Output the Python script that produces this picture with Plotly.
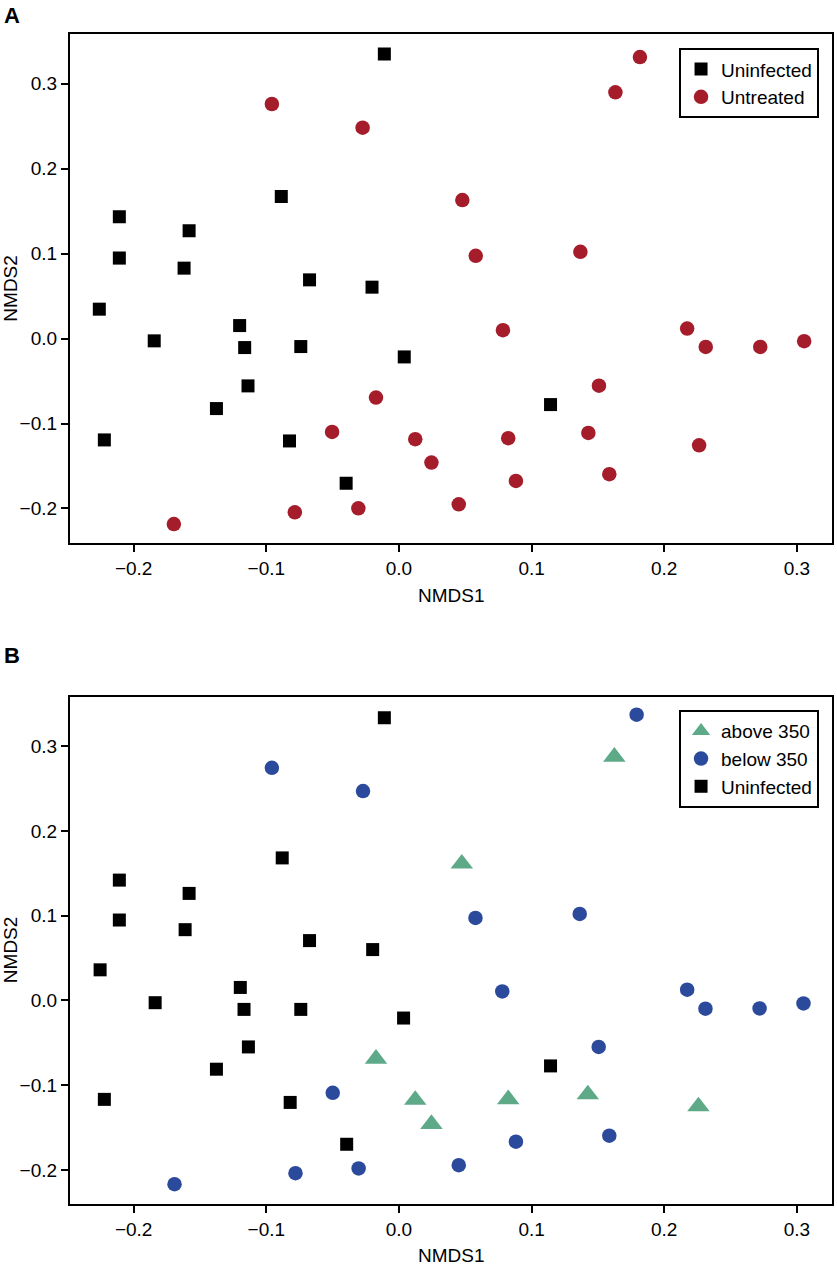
import plotly.graph_objects as go
from plotly.subplots import make_subplots

# ---- Panel A data ----
a_uninf_x = [-0.0110, -0.0887, -0.2108, -0.1582, -0.2108, -0.1620, -0.0674, -0.0203,
             -0.2259, -0.1845, -0.1201, -0.1163, -0.0740, 0.0040, -0.1138, -0.1376,
             -0.2221, -0.0825, -0.0398, 0.1143]
a_uninf_y = [0.335, 0.1673, 0.1433, 0.1269, 0.0947, 0.0829, 0.0691, 0.0605,
             0.0346, -0.0027, 0.0153, -0.0106, -0.0094, -0.0216, -0.0557, -0.0824,
             -0.1193, -0.1205, -0.1703, -0.0777]
a_untr_x = [-0.0958, -0.0274, 0.1817, 0.1632, 0.0478, 0.0579, 0.1368, -0.0173,
            -0.0504, 0.0123, -0.1697, -0.0785, -0.0306, 0.0784, 0.2173, 0.2313,
            0.2724, 0.3055, 0.1508, 0.0824, 0.1428, 0.2263, 0.0245, 0.0882,
            0.1586, 0.0451]
a_untr_y = [0.2761, 0.2482, 0.3314, 0.2898, 0.1630, 0.0974, 0.1021, -0.0695,
            -0.1099, -0.1185, -0.2183, -0.2045, -0.1998, 0.0099, 0.0118, -0.0098,
            -0.0098, -0.0031, -0.0554, -0.1173, -0.1111, -0.1256, -0.1460, -0.1676,
            -0.1597, -0.1951]

# ---- Panel B data ----
b_above_x = [0.1624, 0.0474, -0.0173, 0.0123, 0.0245, 0.0824, 0.1424, 0.2258]
b_above_y = [0.2875, 0.1614, -0.0690, -0.1175, -0.1459, -0.1168, -0.1110, -0.1251]
b_below_x = [-0.0958, -0.0271, 0.1792, 0.0577, 0.1363, -0.0499, -0.1692, -0.0780,
             -0.0304, 0.0779, 0.2173, 0.2311, 0.2719, 0.3050, 0.1506, 0.1586,
             0.0882, 0.0451]
b_below_y = [0.2745, 0.2471, 0.3373, 0.0973, 0.1020, -0.1091, -0.2169, -0.2039,
             -0.1984, 0.0106, 0.0126, -0.0098, -0.0094, -0.0035, -0.0549, -0.1596,
             -0.1667, -0.1945]
b_uninf_x = [-0.0110, -0.0880, -0.2108, -0.1582, -0.2108, -0.1612, -0.0674, -0.0198,
             -0.2253, -0.1838, -0.1196, -0.1168, -0.0740, 0.0035, -0.1135, -0.1376,
             -0.2221, -0.0820, -0.0394, 0.1143]
b_uninf_y = [0.3337, 0.1682, 0.1420, 0.1263, 0.0949, 0.0835, 0.0706, 0.0600,
             0.0361, -0.0027, 0.0153, -0.0106, -0.0106, -0.0208, -0.0549, -0.0812,
             -0.1168, -0.1204, -0.1698, -0.0773]

x_ticks = [-0.2, -0.1, 0.0, 0.1, 0.2, 0.3]
y_ticks = [-0.2, -0.1, 0.0, 0.1, 0.2, 0.3]
x_labels = ["\u22120.2", "\u22120.1", "0.0", "0.1", "0.2", "0.3"]
y_labels = ["\u22120.2", "\u22120.1", "0.0", "0.1", "0.2", "0.3"]

RED = "#A51C2A"
BLUE = "#2B4A9C"
GREEN = "#5EAA88"
FONT = "Liberation Sans, Arial, Helvetica, sans-serif"
FS = 19

fig = make_subplots(rows=2, cols=1)

fig.add_trace(go.Scatter(x=a_uninf_x, y=a_uninf_y, mode="markers", name="Uninfected",
                         marker=dict(symbol="square", size=13, color="black"),
                         legend="legend"), row=1, col=1)
fig.add_trace(go.Scatter(x=a_untr_x, y=a_untr_y, mode="markers", name="Untreated",
                         marker=dict(symbol="circle", size=14.5, color=RED),
                         legend="legend"), row=1, col=1)

fig.add_trace(go.Scatter(x=b_above_x, y=b_above_y, mode="markers", name="above 350",
                         marker=dict(symbol="triangle-up", size=19.5, color=GREEN),
                         legend="legend2"), row=2, col=1)
fig.add_trace(go.Scatter(x=b_below_x, y=b_below_y, mode="markers", name="below 350",
                         marker=dict(symbol="circle", size=14.5, color=BLUE),
                         legend="legend2"), row=2, col=1)
fig.add_trace(go.Scatter(x=b_uninf_x, y=b_uninf_y, mode="markers", name="Uninfected",
                         marker=dict(symbol="square", size=13, color="black"),
                         legend="legend2"), row=2, col=1)

axis_common = dict(showline=True, linecolor="black", linewidth=2.3, mirror=True,
                   ticks="outside", ticklen=7, tickwidth=2, tickcolor="black",
                   showgrid=False, zeroline=False,
                   tickfont=dict(family=FONT, size=FS, color="black"))

xr = [-0.248, 0.3265]
yr = [-0.2403, 0.3585]

fig.update_xaxes(range=xr, tickvals=x_ticks, ticktext=x_labels, **axis_common)
fig.update_yaxes(range=yr, tickvals=y_ticks, ticktext=y_labels, **axis_common)

fig.update_layout(
    width=837, height=1269,
    margin=dict(l=70, r=3, t=34, b=65),
    plot_bgcolor="white", paper_bgcolor="white",
    font=dict(family=FONT, size=FS, color="black"),
    xaxis=dict(domain=[0, 1]),
    yaxis=dict(domain=[0.5652, 1.0]),
    xaxis2=dict(domain=[0, 1]),
    yaxis2=dict(domain=[0.0, 0.4336]),
    legend=dict(x=0.983, y=0.9878, xanchor="right", yanchor="top",
                bordercolor="black", borderwidth=2, bgcolor="white",
                font=dict(family=FONT, size=FS, color="black"),
                itemsizing="trace"),
    legend2=dict(x=0.983, y=0.4222, xanchor="right", yanchor="top",
                 bordercolor="black", borderwidth=2, bgcolor="white",
                 font=dict(family=FONT, size=FS, color="black"),
                 itemsizing="trace"),
    showlegend=True,
)


def px_x(p):
    return (p - 70) / 764.0


def px_y(p):
    return (1204 - p) / 1170.0


annotations = [
    dict(text="<b>A</b>", x=px_x(2), y=px_y(15), xanchor="left", yanchor="middle",
         font=dict(family=FONT, size=22, color="black")),
    dict(text="<b>B</b>", x=px_x(2), y=px_y(655), xanchor="left", yanchor="middle",
         font=dict(family=FONT, size=22, color="black")),
    dict(text="NMDS1", x=px_x(452), y=px_y(595), xanchor="center", yanchor="middle",
         font=dict(family=FONT, size=FS, color="black")),
    dict(text="NMDS1", x=px_x(452), y=px_y(1255), xanchor="center", yanchor="middle",
         font=dict(family=FONT, size=FS, color="black")),
    dict(text="NMDS2", x=px_x(10), y=px_y(288.5), xanchor="center", yanchor="middle",
         textangle=-90, font=dict(family=FONT, size=FS, color="black")),
    dict(text="NMDS2", x=px_x(10), y=px_y(950), xanchor="center", yanchor="middle",
         textangle=-90, font=dict(family=FONT, size=FS, color="black")),
]
for a in annotations:
    a.update(xref="paper", yref="paper", showarrow=False)
fig.update_layout(annotations=annotations)

fig.write_html("out.html",
               config={"displayModeBar": False},
               post_script="document.body.style.margin='0px';document.body.style.overflow='hidden';")
